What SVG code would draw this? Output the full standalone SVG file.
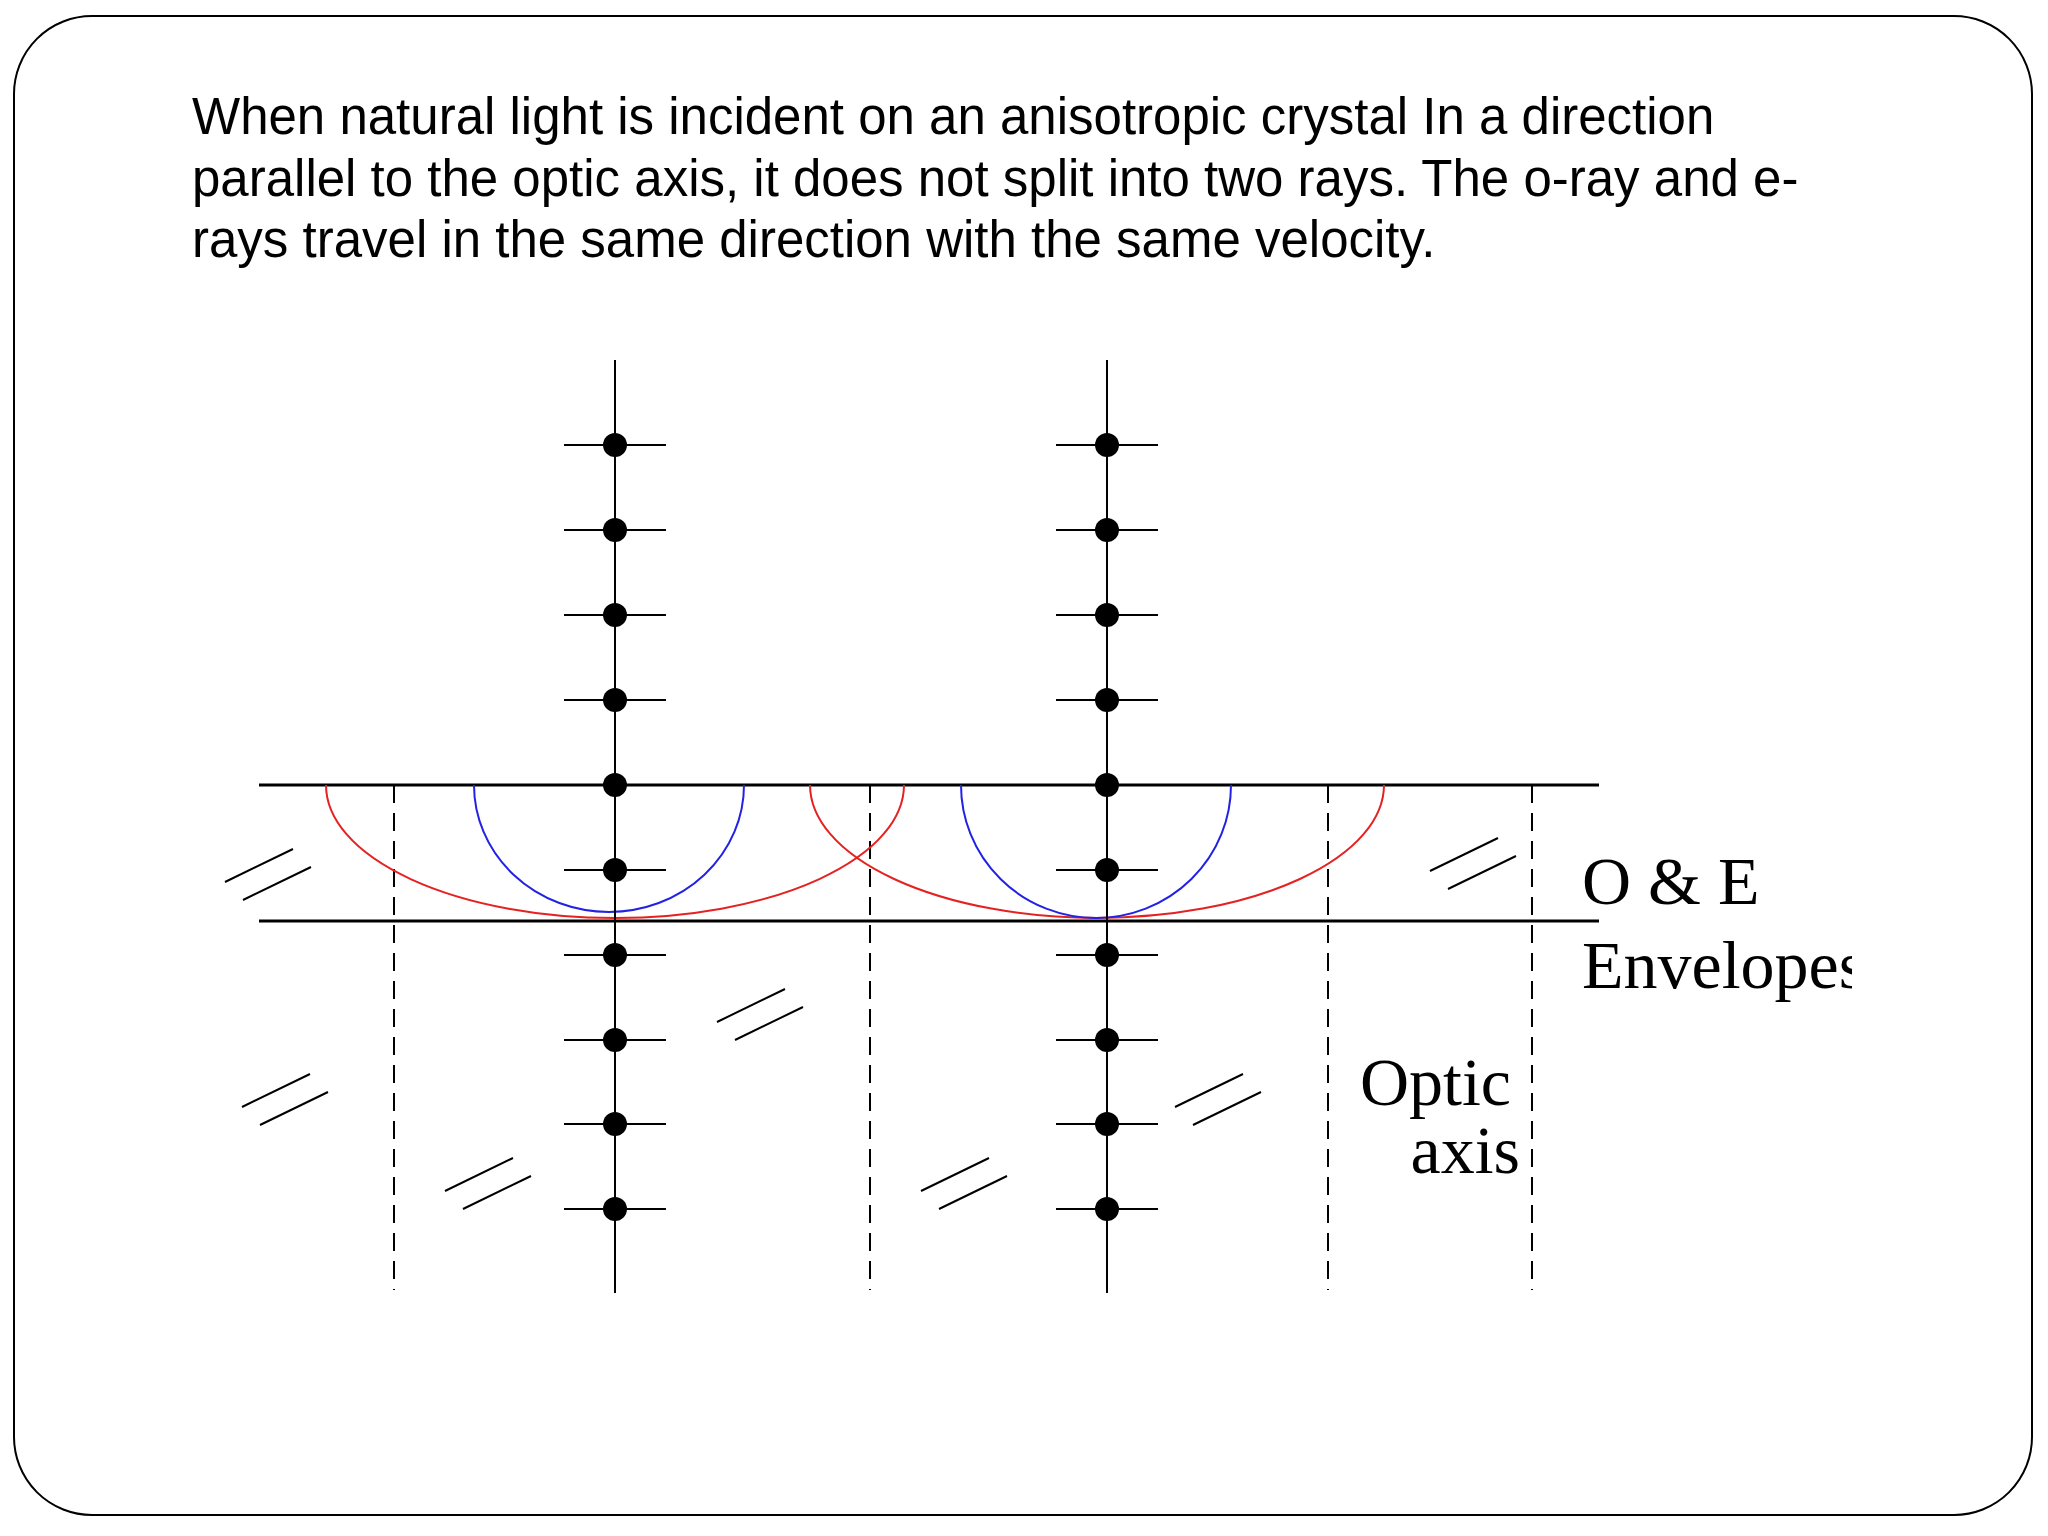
<svg xmlns="http://www.w3.org/2000/svg" width="2048" height="1536" viewBox="0 0 2048 1536">
<style>
.t{font-family:"Liberation Sans",Arial,sans-serif;font-size:51px;fill:#000}
.s{font-family:"Liberation Serif","Times New Roman",serif;font-size:68px;fill:#000}
.ln{stroke:#000;stroke-width:2;fill:none}
.hl{stroke:#000;stroke-width:3;fill:none}
.dash{stroke:#000;stroke-width:2;stroke-dasharray:18,10;fill:none}
.red{stroke:#e52222;stroke-width:2;fill:none}
.blue{stroke:#2222e5;stroke-width:2;fill:none}
</style>
<defs>
<path id="h" d="M0,33 L68,0 M18,51 L86,18" stroke="#000" stroke-width="2" fill="none"/>
<g id="ray">
<line x1="0" y1="360" x2="0" y2="1293" class="ln"/>
<g stroke="#000" stroke-width="2">
<line x1="-51" y1="445" x2="51" y2="445"/><line x1="-51" y1="530" x2="51" y2="530"/><line x1="-51" y1="615" x2="51" y2="615"/><line x1="-51" y1="700" x2="51" y2="700"/><line x1="-51" y1="785" x2="51" y2="785"/><line x1="-51" y1="870" x2="51" y2="870"/><line x1="-51" y1="955" x2="51" y2="955"/><line x1="-51" y1="1040" x2="51" y2="1040"/><line x1="-51" y1="1124" x2="51" y2="1124"/><line x1="-51" y1="1209" x2="51" y2="1209"/>
</g>
<g fill="#000">
<circle cy="445" r="12"/><circle cy="530" r="12"/><circle cy="615" r="12"/><circle cy="700" r="12"/><circle cy="785" r="12"/><circle cy="870" r="12"/><circle cy="955" r="12"/><circle cy="1040" r="12"/><circle cy="1124" r="12"/><circle cy="1209" r="12"/>
</g>
</g>
<clipPath id="c"><rect x="0" y="0" width="1852" height="1536"/></clipPath>
</defs>
<rect x="14" y="16" width="2018" height="1499" rx="78" fill="#fff" stroke="#000" stroke-width="2"/>
<g id="caption">
<text class="t" x="192" y="134">When natural light is incident on an anisotropic crystal In a direction</text>
<text class="t" x="192" y="196">parallel to the optic axis, it does not split into two rays. The o-ray and e-</text>
<text class="t" x="192" y="257">rays travel in the same direction with the same velocity.</text>
</g>
<g id="boundaries">
<line x1="259" y1="785" x2="1599" y2="785" class="hl"/>
<line x1="259" y1="921" x2="1599" y2="921" class="hl"/>
</g>
<g id="optic-axes">
<line x1="394" y1="785" x2="394" y2="1290" class="dash"/>
<line x1="870" y1="785" x2="870" y2="1290" class="dash"/>
<line x1="1328" y1="785" x2="1328" y2="1290" class="dash"/>
<line x1="1532" y1="785" x2="1532" y2="1290" class="dash"/>
</g>
<g id="envelopes">
<path class="red" d="M326,785 A289,133 0 0 0 904,785"/>
<path class="red" d="M810,785 A287,133 0 0 0 1384,785"/>
<path class="blue" d="M474,785 A135,127 0 0 0 744,785"/>
<path class="blue" d="M961,785 A135,133 0 0 0 1231,785"/>
</g>
<g id="ray1" transform="translate(615,0)"><use href="#ray"/></g>
<g id="ray2" transform="translate(1107,0)"><use href="#ray"/></g>
<g id="hatches">
<use href="#h" x="225" y="849"/><use href="#h" x="717" y="989"/><use href="#h" x="242" y="1074"/><use href="#h" x="445" y="1158"/><use href="#h" x="921" y="1158"/><use href="#h" x="1175" y="1074"/><use href="#h" x="1430" y="838"/>
</g>
<g id="labels">
<text class="s" x="1582" y="904">O &amp; E</text>
<text class="s" x="1582" y="988" clip-path="url(#c)">Envelopes</text>
<text class="s" x="1511" y="1105" text-anchor="end">Optic</text>
<text class="s" x="1520" y="1173" text-anchor="end">axis</text>
</g>
</svg>
